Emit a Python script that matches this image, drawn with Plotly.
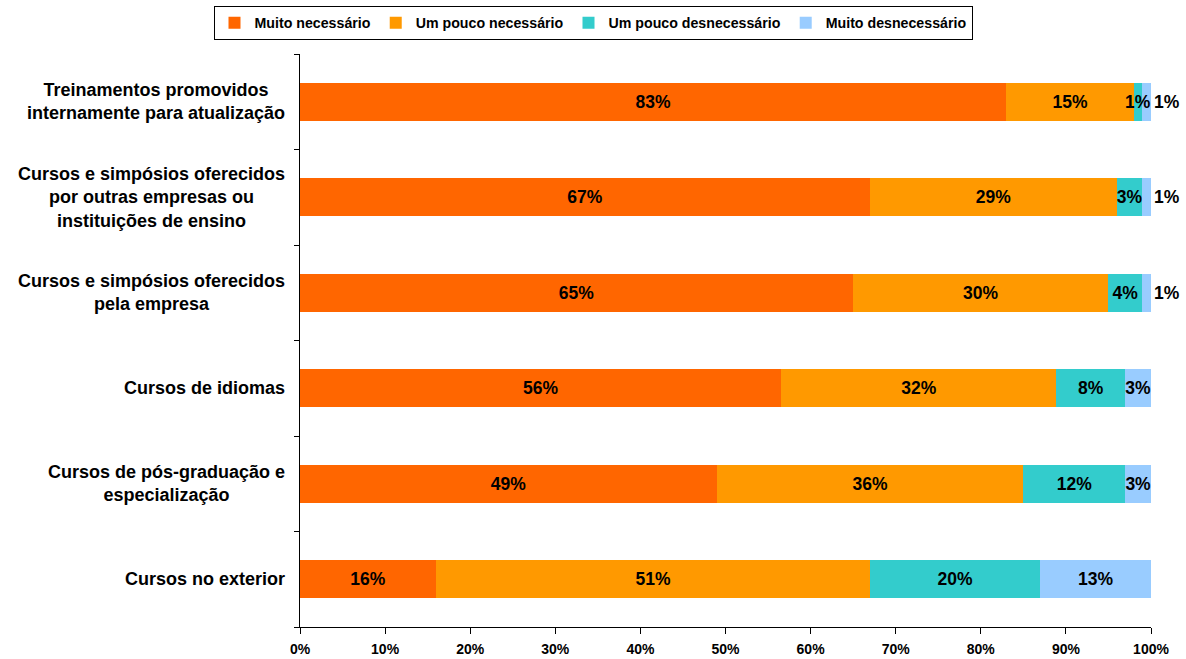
import plotly.graph_objects as go

# Categories (top to bottom)
categories = [
    "Treinamentos promovidos<br>internamente para atualização",
    "Cursos e simpósios oferecidos<br>por outras empresas ou<br>instituições de ensino",
    "Cursos e simpósios oferecidos<br>pela empresa",
    "Cursos de idiomas",
    "Cursos de pós-graduação e<br>especialização",
    "Cursos no exterior",
]

series_names = [
    "Muito necessário",
    "Um pouco necessário",
    "Um pouco desnecessário",
    "Muito desnecessário",
]

muito_necessario = [83, 67, 65, 56, 49, 16]
pouco_necessario = [15, 29, 30, 32, 36, 51]
pouco_desnecessario = [1, 3, 4, 8, 12, 20]
muito_desnecessario = [1, 1, 1, 3, 3, 13]

x_ticks = [0, 10, 20, 30, 40, 50, 60, 70, 80, 90, 100]

colors = ["#FF6600", "#FF9900", "#33CCCC", "#99CCFF"]
series_values = [muito_necessario, pouco_necessario, pouco_desnecessario, muito_desnecessario]

FONT = "Liberation Sans, Arial, sans-serif"
LABEL_FONT = dict(family=FONT, size=17.5, color="black", weight="bold")

# Row totals, used to place labels that sit on top of the next segment
row_totals = [sum(r) for r in zip(*series_values)]

fig = go.Figure()
for si, (name, vals, col) in enumerate(zip(series_names, series_values, colors)):
    if name == "Muito desnecessário":
        # very thin end segments get their label just past the bar end
        pos = ["outside" if v < 3 else "inside" for v in vals]
    else:
        pos = "inside"
    # labels wider than a tiny segment are drawn as annotations (above all bars)
    texts = []
    for ri, v in enumerate(vals):
        if name == "Um pouco desnecessário" and v < 2:
            texts.append("")
            start = sum(series_values[k][ri] for k in range(si))
            fig.add_annotation(
                x=(start + v / 2) / row_totals[ri] * 100, xref="x",
                y=categories[ri], yref="y",
                text=f"{v}%", showarrow=False,
                xanchor="center", yanchor="middle",
                font=LABEL_FONT,
            )
        else:
            texts.append(f"{v}%")
    fig.add_trace(go.Bar(
        name=name,
        y=categories,
        x=vals,
        orientation="h",
        marker=dict(color=col, line=dict(width=0)),
        text=texts,
        texttemplate="%{text}",
        textposition=pos,
        textangle=0,
        insidetextanchor="middle",
        constraintext="none",
        textfont=LABEL_FONT,
        insidetextfont=LABEL_FONT,
        outsidetextfont=LABEL_FONT,
        cliponaxis=False,
        hoverinfo="skip",
    ))

# Category labels, centre-aligned to the left of the axis
for c in categories:
    fig.add_annotation(
        x=0, xref="paper", y=c, yref="y",
        text=c, showarrow=False,
        xanchor="right", yanchor="middle", align="center",
        xshift=-13,
        font=dict(family=FONT, size=18, color="black", weight="bold"),
    )

fig.update_layout(
    barmode="stack",
    barnorm="percent",
    bargap=0.6,
    width=1186, height=659,
    margin=dict(l=300, r=35, t=54, b=32),
    plot_bgcolor="white",
    paper_bgcolor="white",
    font=dict(family=FONT, color="black"),
    showlegend=True,
    legend=dict(
        orientation="h",
        xref="container", x=0.5, xanchor="center",
        yref="container", y=0.991, yanchor="top",
        bordercolor="black", borderwidth=1,
        font=dict(family=FONT, size=14.2, color="black", weight="bold"),
        itemwidth=30,
        traceorder="normal",
        itemclick=False,
    ),
    xaxis=dict(
        range=[0, 100],
        tickvals=x_ticks,
        ticktext=[f"{t}%" for t in x_ticks],
        showgrid=False,
        zeroline=False,
        showline=True, linecolor="black", linewidth=1,
        ticks="outside", ticklen=6, tickcolor="black",
        ticklabelstandoff=3,
        tickfont=dict(family=FONT, size=14, color="black", weight="bold"),
        automargin=False,
    ),
    yaxis=dict(
        categoryorder="array",
        categoryarray=categories[::-1],
        showticklabels=False,
        showgrid=False,
        zeroline=False,
        showline=True, linecolor="black", linewidth=1,
        ticks="outside", ticklen=5, tickcolor="black",
        tickson="boundaries",
        automargin=False,
    ),
)

fig.write_html("out.html")
